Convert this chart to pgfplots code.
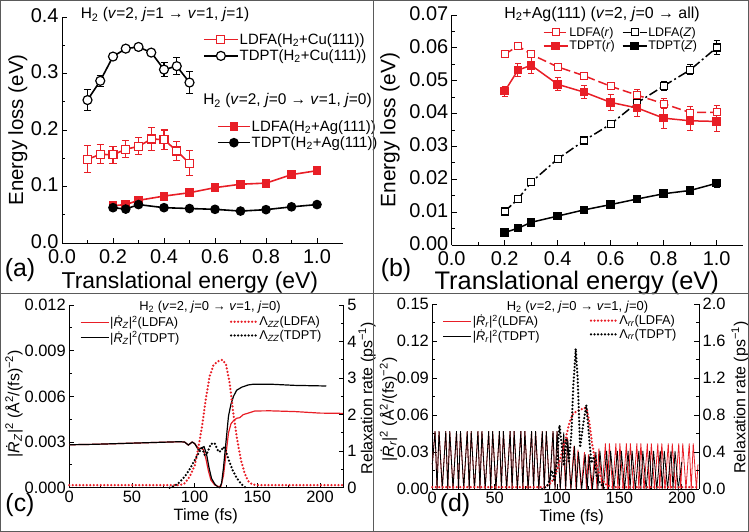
\documentclass[border=0pt]{standalone}
\usepackage{pgfplots}
\pgfplotsset{compat=1.18}
\usepackage{fontspec}
\setmainfont{Liberation Sans}
\definecolor{myred}{RGB}{232,30,38}
\definecolor{frame}{RGB}{90,90,90}
\newcommand{\fs}[1]{\fontsize{#1}{#1}\selectfont}
\newcommand{\Rd}{\textit{\.R}}
\pgfplotsset{
  base/.style={scale only axis, tick align=inside, axis line style={line width=0.9bp},
    tick style={line width=0.8bp, black}, major tick length=5bp, minor tick length=3bp,
    scaled ticks=false, /pgf/number format/assume math mode=true, clip=false},
  Lax/.style={base, axis x line*=bottom, axis y line*=left},
  Rax/.style={base, axis x line=none, axis y line*=right},
  leg/.style={legend cell align=left, legend style={draw=none, fill=none, inner sep=0pt, outer sep=0pt,
    anchor=north west, nodes={inner xsep=1bp, inner ysep=1.5bp}}},
  dots/.style={line width=2.5bp, dash pattern=on 0bp off 3.5bp, line cap=round},
}
\begin{document}
\begin{tikzpicture}
\path[use as bounding box] (0,0) rectangle (749bp,532bp);
% ---------- panel (a): Cu ----------
\begin{axis}[Lax, leg, at={(62bp,289bp)}, anchor=south west, width=280.5bp, height=226bp,
  xmin=0, xmax=1.1, ymin=0, ymax=0.4,
  xtick={0,0.2,0.4,0.6,0.8,1.0}, ytick={0,0.1,0.2,0.3,0.4}, minor x tick num=1, minor y tick num=1,
  tick label style={font=\fs{20}},
  xticklabel style={yshift=-3.5bp, /pgf/number format/.cd,fixed,fixed zerofill,precision=1},
  yticklabel style={yshift=1.5bp, /pgf/number format/.cd,fixed,fixed zerofill,precision=1},
  xlabel={Translational energy (eV)}, ylabel={Energy loss (eV)},
  xlabel style={font=\fs{23}, at={(axis description cs:0.456,-0.175)}, anchor=center},
  ylabel style={font=\fs{20.5}, at={(axis description cs:-0.157,0.5)}, anchor=center},
  legend style={at={(axis description cs:0.503,0.934)}, font=\fs{15}, row sep=1bp},
  legend image code/.code={\draw[mark repeat=2,mark phase=2,#1] plot coordinates {(0bp,0bp) (17bp,0bp) (34bp,0bp)};},
]
\addplot[myred, line width=1.6bp, mark=square*, mark size=4bp, mark options={fill=white, line width=1.2bp},
  error bars/.cd, y dir=both, y explicit, error bar style={line width=1.1bp, myred},
  error mark options={rotate=90, mark size=3.5bp, line width=1.1bp, myred}]
coordinates {(0.10,0.148) +- (0,0.024) (0.15,0.157) +- (0,0.017) (0.20,0.156) +- (0,0.015)
 (0.25,0.166) +- (0,0.015) (0.30,0.171) +- (0,0.015) (0.35,0.184) +- (0,0.020)
 (0.40,0.183) +- (0,0.017) (0.45,0.163) +- (0,0.017) (0.50,0.141) +- (0,0.022)};
\addlegendentry{LDFA(H\textsubscript{2}+Cu(111))}
\addplot[black, line width=1.6bp, mark=*, mark size=4.5bp, mark options={fill=white, line width=1.2bp},
  error bars/.cd, y dir=both, y explicit, error bar style={line width=1.1bp, black},
  error mark options={rotate=90, mark size=3.5bp, line width=1.1bp, black}]
coordinates {(0.10,0.253) +- (0,0.018) (0.15,0.287) +- (0,0.010) (0.20,0.330) +- (0,0.005)
 (0.25,0.344) +- (0,0.005) (0.30,0.347) +- (0,0.006) (0.35,0.337) +- (0,0.005)
 (0.40,0.307) +- (0,0.012) (0.45,0.313) +- (0,0.015) (0.50,0.284) +- (0,0.020)};
\addlegendentry{TDPT(H\textsubscript{2}+Cu(111))}
\end{axis}
% ---------- panel (a): Ag ----------
\begin{axis}[base, hide axis, leg, at={(62bp,289bp)}, anchor=south west, width=280.5bp, height=226bp,
  xmin=0, xmax=1.1, ymin=0, ymax=0.4,
  legend style={at={(axis description cs:0.553,0.55)}, font=\fs{15}, row sep=1bp},
  legend image code/.code={\draw[mark repeat=2,mark phase=2,#1] plot coordinates {(0bp,0bp) (16bp,0bp) (32bp,0bp)};},
]
\addplot[myred, line width=1.6bp, mark=square*, mark size=3.6bp,
  error bars/.cd, y dir=both, y explicit, error bar style={line width=1.1bp, myred},
  error mark options={rotate=90, mark size=3bp, line width=1.1bp, myred}]
coordinates {(0.2,0.066) +- (0,0.003) (0.25,0.068) +- (0,0.003) (0.3,0.0755) +- (0,0.003)
 (0.4,0.083) +- (0,0.003) (0.5,0.089) +- (0,0.003) (0.6,0.098) +- (0,0.003) (0.7,0.104) +- (0,0.003)
 (0.8,0.106) +- (0,0.003) (0.9,0.121) +- (0,0.003) (1.0,0.128) +- (0,0.003)};
\addlegendentry{LDFA(H\textsubscript{2}+Ag(111))}
\addplot[black, line width=1.6bp, mark=*, mark size=4bp,
  error bars/.cd, y dir=both, y explicit, error bar style={line width=1.1bp, black},
  error mark options={rotate=90, mark size=3bp, line width=1.1bp, black}]
coordinates {(0.2,0.0625) +- (0,0.003) (0.25,0.060) +- (0,0.003) (0.3,0.068) +- (0,0.003)
 (0.4,0.0625) +- (0,0.002) (0.5,0.061) +- (0,0.002) (0.6,0.0596) +- (0,0.002) (0.7,0.0565) +- (0,0.002)
 (0.8,0.059) +- (0,0.002) (0.9,0.064) +- (0,0.002) (1.0,0.068) +- (0,0.002)};
\addlegendentry{TDPT(H\textsubscript{2}+Ag(111))}
\end{axis}
% ---------- panel (b) ----------
\begin{axis}[Lax, leg, at={(451.7bp,287bp)}, anchor=south west, width=291.5bp, height=230bp,
  xmin=0, xmax=1.1, ymin=0, ymax=0.07,
  xtick={0,0.2,0.4,0.6,0.8,1.0}, ytick={0,0.01,0.02,0.03,0.04,0.05,0.06,0.07}, minor x tick num=1, minor y tick num=1,
  tick label style={font=\fs{20}},
  xticklabel style={yshift=-3.5bp, /pgf/number format/.cd,fixed,fixed zerofill,precision=1},
  yticklabel style={yshift=1.5bp, /pgf/number format/.cd,fixed,fixed zerofill,precision=2},
  xlabel={Translational energy (eV)}, ylabel={Energy loss (eV)},
  xlabel style={font=\fs{25.5}, at={(axis description cs:0.429,-0.163)}, anchor=center},
  ylabel style={font=\fs{21}, at={(axis description cs:-0.212,0.5)}, anchor=center},
  legend columns=2,
  legend style={at={(axis description cs:0.313,0.954)}, font=\fs{12.5}, row sep=0bp,
    /tikz/every even column/.append style={column sep=6bp}},
  legend image code/.code={\draw[mark repeat=2,mark phase=2,#1] plot coordinates {(0bp,0bp) (12bp,0bp) (24bp,0bp)};},
]
\addplot[myred, line width=1.5bp, dash pattern=on 9bp off 4bp, mark=square*, mark size=3.5bp,
  mark options={solid, fill=white, line width=1.1bp},
  error bars/.cd, y dir=both, y explicit, error bar style={line width=1bp, solid, myred},
  error mark options={rotate=90, mark size=3bp, line width=1bp, solid, myred}]
coordinates {(0.2,0.0580) +- (0,0.0008) (0.25,0.0606) +- (0,0.0008) (0.3,0.0580) +- (0,0.0008)
 (0.4,0.0542) +- (0,0.0008) (0.5,0.0515) +- (0,0.0010) (0.6,0.0483) +- (0,0.0010) (0.7,0.0456) +- (0,0.0018)
 (0.8,0.0430) +- (0,0.0015) (0.9,0.0403) +- (0,0.0020) (1.0,0.0404) +- (0,0.0022)};
\addlegendentry{LDFA(\textit{r})}
\addplot[black, line width=1.5bp, dash pattern=on 9bp off 3bp on 2bp off 3bp, mark=square*, mark size=3.5bp,
  mark options={solid, fill=white, line width=1.1bp},
  error bars/.cd, y dir=both, y explicit, error bar style={line width=1bp, solid, black},
  error mark options={rotate=90, mark size=3bp, line width=1bp, solid, black}]
coordinates {(0.2,0.0102) +- (0,0.0006) (0.25,0.0140) +- (0,0.0008) (0.3,0.0191) +- (0,0.0008)
 (0.4,0.0262) +- (0,0.0006) (0.5,0.0318) +- (0,0.0006) (0.6,0.0368) +- (0,0.0006) (0.7,0.0433) +- (0,0.0010)
 (0.8,0.0484) +- (0,0.0015) (0.9,0.0533) +- (0,0.0015) (1.0,0.0601) +- (0,0.0020)};
\addlegendentry{LDFA(\textit{Z})}
\addplot[myred, line width=1.5bp, mark=square*, mark size=3.5bp,
  error bars/.cd, y dir=both, y explicit, error bar style={line width=1bp, myred},
  error mark options={rotate=90, mark size=3bp, line width=1bp, myred}]
coordinates {(0.2,0.0468) +- (0,0.0015) (0.25,0.0532) +- (0,0.0020) (0.3,0.0547) +- (0,0.0025)
 (0.4,0.0489) +- (0,0.0020) (0.5,0.0465) +- (0,0.0020) (0.6,0.0434) +- (0,0.0025) (0.7,0.0417) +- (0,0.0025)
 (0.8,0.0386) +- (0,0.0030) (0.9,0.0378) +- (0,0.0030) (1.0,0.0376) +- (0,0.0030)};
\addlegendentry{TDPT(\textit{r})}
\addplot[black, line width=1.5bp, mark=square*, mark size=3.5bp,
  error bars/.cd, y dir=both, y explicit, error bar style={line width=1bp, black},
  error mark options={rotate=90, mark size=3bp, line width=1bp, black}]
coordinates {(0.2,0.0038) +- (0,0.0005) (0.25,0.0051) +- (0,0.0005) (0.3,0.0069) +- (0,0.0005)
 (0.4,0.0088) +- (0,0.0006) (0.5,0.0107) +- (0,0.0006) (0.6,0.0123) +- (0,0.0006) (0.7,0.0140) +- (0,0.0006)
 (0.8,0.0156) +- (0,0.0008) (0.9,0.0166) +- (0,0.0010) (1.0,0.0188) +- (0,0.0012)};
\addlegendentry{TDPT(\textit{Z})}
\end{axis}
% ---------- panel (c) left ----------
\begin{axis}[Lax, leg, at={(69.3bp,44.3bp)}, anchor=south west, width=274.5bp, height=182.7bp,
  xmin=0, xmax=219, ymin=0, ymax=0.012,
  xtick={0,50,100,150,200}, ytick={0,0.003,0.006,0.009,0.012}, minor x tick num=1, minor y tick num=1,
  tick label style={font=\fs{16.5}},
  yticklabel style={/pgf/number format/.cd,fixed,fixed zerofill,precision=3},
  xlabel={Time (fs)}, ylabel={|\Rd\textsubscript{\textit{Z}}|\textsuperscript{2} (Å\textsuperscript{2}/(fs)\textsuperscript{−2})},
  xlabel style={font=\fs{16.5}, at={(axis description cs:0.497,-0.155)}, anchor=center},
  ylabel style={font=\fs{16}, at={(axis description cs:-0.2015,0.46)}, anchor=center},
  legend style={at={(axis description cs:0.039,0.946)}, font=\fs{12.8}, row sep=0bp},
  legend image code/.code={\draw[#1] (0bp,0bp) -- (28bp,0bp);},
]
\addplot[myred, line width=1.2bp] coordinates {(0,0.00282) (20,0.00285) (40,0.0029) (60,0.00295) (80,0.003)
 (88,0.00302) (92,0.003) (95,0.0028) (98,0.003) (100,0.0029) (103,0.0026) (105,0.0026) (107,0.0025)
 (109,0.0019) (111,0.0011) (113,0.0005) (116,0.00018) (119,0.00008) (121,0.0001) (123,0.0008)
 (125,0.0022) (127,0.0036) (129,0.0042) (131,0.0044) (133.5,0.00456) (136,0.0046) (138.8,0.0048)
 (142.8,0.0049) (148,0.00504) (160,0.00505) (180,0.005) (200,0.0049) (219,0.00488)};
\addlegendentry{|\Rd\textsubscript{\textit{Z}}|\textsuperscript{2}(LDFA)}
\addplot[black, line width=1.2bp] coordinates {(0,0.00282) (20,0.00285) (40,0.0029) (60,0.00295) (80,0.003)
 (88,0.00302) (92,0.003) (95,0.0028) (98,0.003) (100,0.0029) (103,0.00248) (105,0.0026) (107.5,0.0027)
 (109.5,0.0022) (111.5,0.0013) (113.5,0.0006) (116,0.00025) (118.5,0.00005) (120,0) (121.5,0.0003)
 (123,0.0013) (125,0.003) (127,0.0047) (129,0.0055) (131,0.006) (133.5,0.0064) (137.5,0.0066)
 (142.8,0.00675) (147,0.0068) (160,0.0068) (180,0.00672) (205,0.00668)};
\addlegendentry{|\Rd\textsubscript{\textit{Z}}|\textsuperscript{2}(TDPT)}
\end{axis}
% ---------- panel (c) right ----------
\begin{axis}[Rax, leg, at={(69.3bp,44.3bp)}, anchor=south west, width=274.5bp, height=182.7bp,
  xmin=0, xmax=219, ymin=0, ymax=5, ytick={0,1,2,3,4,5}, minor y tick num=1,
  tick label style={font=\fs{16.5}},
  ylabel={Relaxation rate (ps\textsuperscript{−1})},
  ylabel style={font=\fs{16}, at={(axis description cs:1.085,0.49)}, anchor=center},
  legend style={at={(axis description cs:0.585,0.946)}, font=\fs{12.8}, row sep=0bp},
  legend image code/.code={\draw[#1] (1bp,0bp) -- (27bp,0bp);},
]
\addplot[myred, dots] coordinates {(0,0.07) (88,0.07) (92,0.12) (96,0.3) (100,0.6) (103,1.1) (106,1.7)
 (109,2.45) (112,3.05) (115,3.35) (118,3.45) (122,3.5) (125,3.38) (128,2.85) (131,2.0) (134,1.3)
 (137,0.75) (140,0.38) (143,0.17) (146,0.09) (150,0.07) (219,0.07)};
\addlegendentry{Λ\textsubscript{\textit{ZZ}}(LDFA)}
\addplot[black, dots] coordinates {(80,0) (84,0.05) (88,0.15) (92,0.3) (96,0.5) (100,0.75) (104,1.0)
 (106,1.08) (108,0.9) (110,0.95) (113,1.2) (116,1.22) (119,0.98) (121,1.0) (123,1.12) (125,1.0)
 (127,0.78) (130,0.5) (133,0.3) (136,0.15) (139,0.04) (141,0)};
\addlegendentry{Λ\textsubscript{\textit{ZZ}}(TDPT)}
\end{axis}
% ---------- panel (d) left ----------
\begin{axis}[Lax, leg, at={(432.3bp,43bp)}, anchor=south west, width=266.9bp, height=184.7bp,
  xmin=0, xmax=214, ymin=0, ymax=0.15,
  xtick={0,50,100,150,200}, ytick={0,0.03,0.06,0.09,0.12,0.15}, minor x tick num=1, minor y tick num=1,
  tick label style={font=\fs{16.5}},
  yticklabel style={/pgf/number format/.cd,fixed,fixed zerofill,precision=2},
  xlabel={Time (fs)}, ylabel={|\Rd\textsubscript{\textit{r}}|\textsuperscript{2} (Å\textsuperscript{2}/(fs)\textsuperscript{−2})},
  xlabel style={font=\fs{16.5}, at={(axis description cs:0.522,-0.152)}, anchor=center},
  ylabel style={font=\fs{16}, at={(axis description cs:-0.164,0.43)}, anchor=center},
  legend style={at={(axis description cs:0.04,0.949)}, font=\fs{12.8}, row sep=0bp},
  legend image code/.code={\draw[#1] (0bp,0bp) -- (28bp,0bp);},
]
\addplot[myred, line width=0.8bp] coordinates {(0,0.02) (2.2,0.047) (3.8,0) (5.4,0.047) (8.0,0)
 (10.8,0.047) (12.4,0) (14.0,0.047) (16.6,0) (19.4,0.047) (21.0,0) (22.6,0.047) (25.2,0)
 (28.0,0.047) (29.6,0) (31.2,0.047) (33.8,0) (36.6,0.047) (38.2,0) (39.8,0.047) (42.4,0)
 (45.2,0.047) (46.8,0) (48.4,0.047) (51.0,0) (53.8,0.047) (55.4,0) (57.0,0.047) (59.6,0)
 (62.4,0.047) (64.0,0) (65.6,0.047) (68.2,0) (71.0,0.047) (72.6,0) (74.2,0.047) (76.8,0)
 (79.6,0.047) (81.2,0) (82.8,0.047) (85.4,0) (88.2,0.047) (89.8,0) (91.4,0.047) (94.0,0)
 (96.8,0.047) (98.4,0) (100.0,0.047) (102.6,0)
 (105.0,0.04) (106.8,0) (108.4,0.042) (111.0,0) (113.6,0.035) (115.2,0) (116.8,0.032) (119.4,0)
 (122.0,0.03) (123.6,0) (125.2,0.028) (127.8,0) (130.4,0.03) (132.0,0) (133.6,0.033) (136.2,0)
 (138.8,0.037) (140.4,0) (142.0,0.037) (144.6,0) (147.2,0.037) (148.8,0) (150.4,0.037) (153.0,0)
 (155.6,0.037) (157.2,0) (158.8,0.037) (161.4,0) (164.0,0.037) (165.6,0) (167.2,0.037) (169.8,0)
 (172.4,0.037) (174.0,0) (175.6,0.037) (178.2,0) (180.8,0.037) (182.4,0) (184.0,0.037) (186.6,0)
 (189.2,0.037) (190.8,0) (192.4,0.037) (195.0,0) (197.6,0.037) (199.2,0) (200.8,0.037) (203.4,0)
 (206.0,0.037) (207.6,0) (209.2,0.037) (211.8,0) (213,0.02)};
\addlegendentry{|\Rd\textsubscript{\textit{r}}|\textsuperscript{2}(LDFA)}
\addplot[black, line width=0.8bp] coordinates {(0,0.02) (2.2,0.047) (3.8,0) (5.4,0.047) (8.0,0)
 (10.8,0.047) (12.4,0) (14.0,0.047) (16.6,0) (19.4,0.047) (21.0,0) (22.6,0.047) (25.2,0)
 (28.0,0.047) (29.6,0) (31.2,0.047) (33.8,0) (36.6,0.047) (38.2,0) (39.8,0.047) (42.4,0)
 (45.2,0.047) (46.8,0) (48.4,0.047) (51.0,0) (53.8,0.047) (55.4,0) (57.0,0.047) (59.6,0)
 (62.4,0.047) (64.0,0) (65.6,0.047) (68.2,0) (71.0,0.047) (72.6,0) (74.2,0.047) (76.8,0)
 (79.6,0.047) (81.2,0) (82.8,0.047) (85.4,0) (88.2,0.047) (89.8,0) (91.4,0.047) (94.0,0)
 (96.8,0.047) (98.4,0) (100.0,0.047) (102.6,0)
 (105.4,0.046) (107.0,0) (108.6,0.04) (111.2,0) (114.0,0.035) (115.6,0) (117.2,0.03) (119.8,0)
 (122.6,0.028) (124.2,0) (125.8,0.027) (128.4,0) (131.2,0.03) (132.8,0) (134.4,0.031) (137.0,0)
 (139.8,0.031) (141.4,0) (143.0,0.031) (145.6,0) (148.4,0.031) (150.0,0) (151.6,0.031) (154.2,0)
 (157.0,0.031) (158.6,0) (160.2,0.031) (162.8,0) (165.6,0.031) (167.2,0) (168.8,0.031) (171.4,0)
 (174.2,0.031) (175.8,0) (177.4,0.031) (180.0,0) (182.8,0.031) (184.4,0) (186.0,0.031) (188.6,0)
 (191.4,0.031) (193.0,0) (194.6,0.031) (197.2,0) (200,0.022)};
\addlegendentry{|\Rd\textsubscript{\textit{r}}|\textsuperscript{2}(TDPT)}
\end{axis}
% ---------- panel (d) right ----------
\begin{axis}[Rax, leg, at={(432.3bp,43bp)}, anchor=south west, width=266.9bp, height=184.7bp,
  xmin=0, xmax=214, ymin=0, ymax=2, ytick={0,0.4,0.8,1.2,1.6,2.0}, minor y tick num=1,
  tick label style={font=\fs{16.5}},
  yticklabel style={/pgf/number format/.cd,fixed,fixed zerofill,precision=1},
  ylabel={Relaxation rate (ps\textsuperscript{−1})},
  ylabel style={font=\fs{16}, at={(axis description cs:1.153,0.495)}, anchor=center},
  legend style={at={(axis description cs:0.59,0.949)}, font=\fs{12.8}, row sep=0bp},
  legend image code/.code={\draw[#1] (1bp,0bp) -- (27bp,0bp);},
]
\addplot[myred, dots] coordinates {(0,0.02) (90,0.02) (94,0.05) (98,0.12) (101,0.25) (104,0.4)
 (107,0.55) (110,0.72) (113,0.82) (116,0.84) (119,0.86) (122,0.88) (124,0.85) (126,0.72) (128,0.5)
 (130,0.35) (133,0.2) (136,0.1) (140,0.04) (145,0.02) (213,0.02)};
\addlegendentry{Λ\textsubscript{\textit{rr}}(LDFA)}
\addplot[black, dots] coordinates {(88,0) (92,0.03) (94,0.1) (96,0.2) (98,0.08) (100,0.3) (102,0.69)
 (104,0.45) (105.5,0.25) (107.5,0.55) (109.5,0.3) (111.5,0.6) (113,1.1) (115,1.52) (116.5,1.2)
 (118.5,0.45) (121,0.7) (123.5,0.91) (125.5,0.6) (127.5,0.28) (129.5,0.35) (131.5,0.15) (134,0.08)
 (137,0.02) (139,0)};
\addlegendentry{Λ\textsubscript{\textit{rr}}(TDPT)}
\end{axis}
% ---------- annotations and frames ----------
\node[font=\fs{15.5}] at (165bp,517.5bp) {H\textsubscript{2} (\textit{v}=2, \textit{j}=1 → \textit{v}=1, \textit{j}=1)};
\node[font=\fs{15.5}] at (287.5bp,431.5bp) {H\textsubscript{2} (\textit{v}=2, \textit{j}=0 → \textit{v}=1, \textit{j}=0)};
\node[font=\fs{16}] at (602bp,518bp) {H\textsubscript{2}+Ag(111) (\textit{v}=2, \textit{j}=0 → all)};
\node[font=\fs{13}] at (210bp,225bp) {H\textsubscript{2} (\textit{v}=2, \textit{j}=0 → \textit{v}=1, \textit{j}=0)};
\node[font=\fs{13}] at (577.5bp,225.3bp) {H\textsubscript{2} (\textit{v}=2, \textit{j}=0 → \textit{v}=1, \textit{j}=0)};
\node[font=\fs{25}] at (20bp,262bp) {(a)};
\node[font=\fs{25}] at (396bp,262bp) {(b)};
\node[font=\fs{25}] at (20bp,27bp) {(c)};
\node[font=\fs{25}] at (455bp,27bp) {(d)};
\draw[frame, line width=1bp] (0.5bp,0.5bp) rectangle (748.5bp,531.5bp);
\draw[frame, line width=1bp] (373bp,0bp) -- (373bp,532bp);
\draw[frame, line width=1bp] (0bp,238bp) -- (749bp,238bp);
\end{tikzpicture}
\end{document}
